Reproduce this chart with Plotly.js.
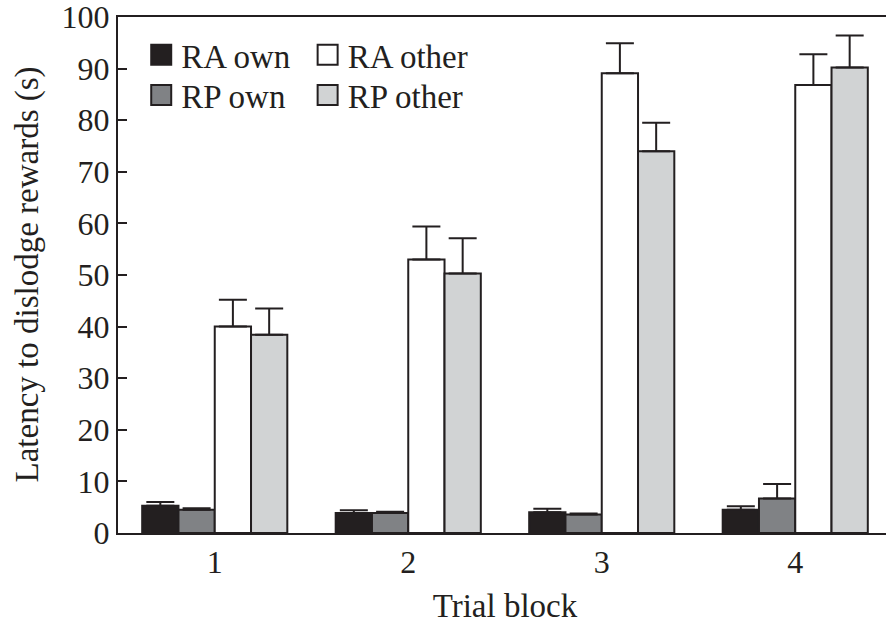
<!DOCTYPE html>
<html>
<head>
<meta charset="utf-8">
<script src="https://cdn.plot.ly/plotly-3.0.1.min.js"></script>
<style>
html, body { margin: 0; padding: 0; overflow: hidden; background: #ffffff; }
#chart { width: 900px; height: 624px; }
</style>
</head>
<body>
<div id="chart"></div>
<script>
const categories = ['1', '2', '3', '4'];
const seriesNames = ['RA own', 'RP own', 'RA other', 'RP other'];
const raOwn = [5.3, 3.9, 4.0, 4.5];
const raOwnErr = [0.7, 0.5, 0.7, 0.7];
const rpOwn = [4.5, 3.9, 3.6, 6.7];
const rpOwnErr = [0.3, 0.2, 0.2, 2.8];
const raOther = [40.0, 53.0, 89.1, 86.8];
const raOtherErr = [5.2, 6.4, 5.8, 6.0];
const rpOther = [38.4, 50.3, 74.0, 90.2];
const rpOtherErr = [5.1, 6.8, 5.5, 6.2];
const yTicks = [0, 10, 20, 30, 40, 50, 60, 70, 80, 90, 100];
const yTitle = 'Latency to dislodge rewards (s)';
const xTitle = 'Trial block';

const ink = '#231f20';
const fills = ['#231f20', '#808285', '#ffffff', '#d1d3d4'];
const values = [raOwn, rpOwn, raOther, rpOther];
const errs = [raOwnErr, rpOwnErr, raOtherErr, rpOtherErr];
const legendIds = ['legend', 'legend2', 'legend3', 'legend4'];

const traces = seriesNames.map((name, i) => ({
  type: 'bar',
  name: name,
  x: categories,
  y: values[i],
  legend: legendIds[i],
  marker: { color: fills[i], line: { color: ink, width: 2 } },
  error_y: {
    type: 'data', symmetric: false,
    array: errs[i], arrayminus: errs[i].map(() => 0),
    color: ink, thickness: 2, width: 14
  },
  hoverinfo: 'skip'
}));

const serif = 'Liberation Serif, Times New Roman, serif';

function legendAt(x, y) {
  return {
    x: x, y: y, xanchor: 'left', yanchor: 'top',
    orientation: 'v', bgcolor: 'rgba(0,0,0,0)', borderwidth: 0,
    font: { family: serif, size: 33, color: ink }
  };
}

const layout = {
  width: 900, height: 624,
  margin: { l: 118, r: 8, t: 17, b: 91 },
  paper_bgcolor: '#ffffff', plot_bgcolor: '#ffffff',
  barmode: 'group', bargap: 0.25, bargroupgap: 0,
  font: { family: serif, color: ink, size: 32 },
  xaxis: {
    type: 'category', range: [-0.5, 3.5],
    showline: true, linecolor: ink, linewidth: 2, mirror: true,
    ticks: '', showgrid: false, zeroline: false,
    tickfont: { family: serif, size: 32, color: ink },
    title: { text: xTitle, font: { family: serif, size: 33, color: ink }, standoff: 18 }
  },
  yaxis: {
    range: [0, 100], tickvals: yTicks, ticktext: yTicks.map(String),
    ticklabeloverflow: 'allow',
    showline: true, linecolor: ink, linewidth: 2, mirror: false,
    ticks: 'inside', ticklen: 9, tickwidth: 2, tickcolor: ink,
    showgrid: false, zeroline: false,
    tickfont: { family: serif, size: 32, color: ink }
  },
  annotations: [{
    text: yTitle, xref: 'paper', yref: 'paper',
    x: -0.1163, y: 0.501, xanchor: 'center', yanchor: 'middle',
    textangle: -90, showarrow: false,
    font: { family: serif, size: 33, color: ink }
  }],
  legend: legendAt(0.03, 0.981),
  legend2: legendAt(0.03, 0.903),
  legend3: legendAt(0.245, 0.981),
  legend4: legendAt(0.245, 0.903),
  showlegend: true
};

Plotly.newPlot('chart', traces, layout, { staticPlot: true, displayModeBar: false }).then(() => {
  document.querySelectorAll('.legendpoints path').forEach(p => {
    p.setAttribute('d', 'M10,10H-10V-10H10Z');
    p.style.strokeWidth = '2px';
  });
});
</script>
</body>
</html>
